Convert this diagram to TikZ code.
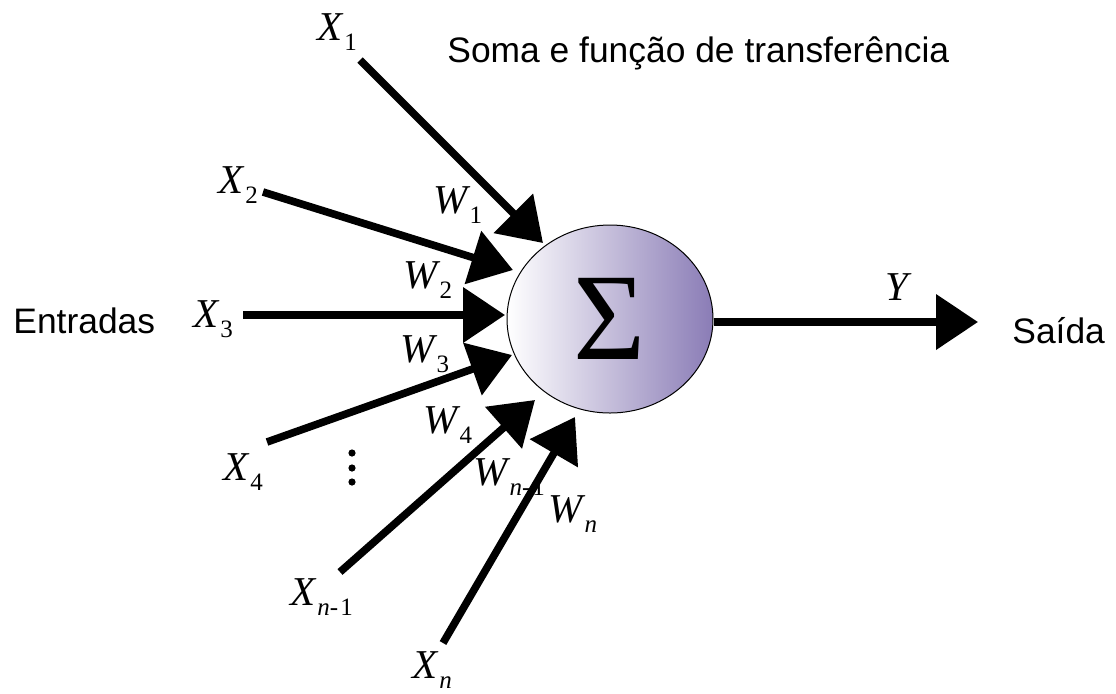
\documentclass[tikz,border=0pt]{standalone}
\usepackage{fontspec}
\setmainfont{Liberation Sans}
\newfontfamily\serifsym{Liberation Serif}
\usetikzlibrary{arrows.meta,shapes.geometric}
\definecolor{sumviolet}{RGB}{138,124,182}
\newcommand{\simb}[2]{{\serifsym\fontsize{20.5}{20.5}\selectfont\itshape #1}\kern1pt\raisebox{-5pt}{\serifsym\fontsize{12.5}{12.5}\selectfont #2}}

\begin{document}
\begin{tikzpicture}[x=0.5pt,y=-0.5pt,
  entrada/.style={line width=3.8pt,-{Triangle[length=21pt,width=27pt]}},
  rotulo/.style={anchor=base west,inner sep=0pt},
  texto/.style={anchor=base west,inner sep=0pt,font=\fontsize{17.7}{20}\selectfont}]
    \useasboundingbox (0,0) rectangle (1116,693);
    % neuronio
    \node[ellipse, draw, line width=0.5pt, minimum width=103pt, minimum height=94pt, inner sep=0pt,
      left color=white, right color=sumviolet,
      font=\serifsym\fontsize{62}{62}\selectfont] (soma) at (610,319) {Σ};
    % textos
    \node[texto] (titulo) at (447,62) {Soma e função de transferência};
    \node[texto] (entradas) at (13,333) {Entradas};
    \node[texto] (saida) at (1012,343) {Saída};
    % entradas
    \coordinate (i1) at (360,60);   \coordinate (t1) at (543,243);
    \coordinate (i2) at (263,192);  \coordinate (t2) at (513,270);
    \coordinate (i3) at (243,315);  \coordinate (t3) at (505,315);
    \coordinate (i4) at (267,442);  \coordinate (t4) at (512,355);
    \coordinate (i5) at (340,572);  \coordinate (t5) at (535,400);
    \coordinate (i6) at (443,643);  \coordinate (t6) at (575,417);
    \draw[entrada] (i1) -- (t1);
    \draw[entrada] (i2) -- (t2);
    \draw[entrada] (i3) -- (t3);
    \draw[entrada] (i4) -- (t4);
    \draw[entrada] (i5) -- (t5);
    \draw[entrada] (i6) -- (t6);
    % saida
    \coordinate (y) at (978,322);
    \draw[entrada] (soma.east |- y) -- (y);
    % rotulos X
    \node[rotulo] (x1) at (317,40) {\simb{X}{1}};
    \node[rotulo] (x2) at (218,193) {\simb{X}{2}};
    \node[rotulo] (x3) at (193,327) {\simb{X}{3}};
    \node[rotulo] (x4) at (223,480) {\simb{X}{4}};
    \node[rotulo] (xn1) at (290,605) {\simb{X}{\textit{n}-\kern1pt1}};
    \node[rotulo] (xn) at (412,678) {\simb{X}{\textit{n}}};
    % pesos W
    \node[rotulo] (w1) at (433,213) {\simb{W}{1}};
    \node[rotulo] (w2) at (403,288) {\simb{W}{2}};
    \node[rotulo] (w3) at (400,362) {\simb{W}{3}};
    \node[rotulo] (w4) at (423,433) {\simb{W}{4}};
    \node[rotulo] (wn1) at (473,485) {\simb{W}{\textit{n}-\kern1pt1}};
    \node[rotulo] (wn) at (548,522) {\simb{W}{\textit{n}}};
    \node[rotulo] (ysai) at (885,300) {{\serifsym\fontsize{20.5}{20.5}\selectfont\itshape Y}};
    % reticencias
    \foreach \yy in {453,468,482}
      \fill (352,\yy) circle (1.8pt);
\end{tikzpicture}
\end{document}
